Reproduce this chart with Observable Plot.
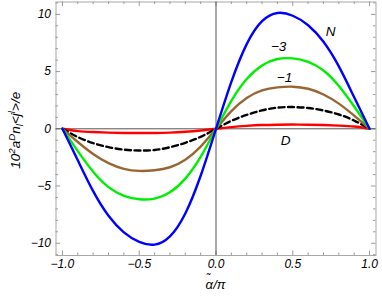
<!DOCTYPE html>
<html>
<head>
<meta charset="utf-8">
<script src="https://cdn.jsdelivr.net/npm/d3@7"></script>
<script src="https://cdn.jsdelivr.net/npm/@observablehq/plot@0.6"></script>
<style>
  html, body { margin: 0; padding: 0; background: #fff; }
  svg { font-family: "Liberation Sans", Arial, sans-serif; }
</style>
</head>
<body>
<div id="chart"></div>
<script>
const alpha = [-1,-0.9,-0.8,-0.7,-0.6,-0.5,-0.4,-0.3,-0.2,-0.1,0,0.1,0.2,0.3,0.4,0.5,0.6,0.7,0.8,0.9,1];
const seriesN  = [0,-2.75,-5.45,-7.6,-9.05,-9.88,-10.12,-9.4,-7.4,-4.1,0,4.1,7.4,9.4,10.12,9.88,9.05,7.6,5.45,2.75,0];
const seriesM3 = [0,-1.95,-3.75,-5.1,-5.85,-6.15,-6.1,-5.54,-4.35,-2.45,0,2.45,4.35,5.54,6.1,6.15,5.85,5.1,3.75,1.95,0];
const seriesM1 = [0,-1.15,-2.2,-3.0,-3.5,-3.68,-3.62,-3.36,-2.7,-1.55,0,1.55,2.7,3.36,3.62,3.68,3.5,3.0,2.2,1.15,0];
const seriesDash = [0,-0.72,-1.25,-1.6,-1.82,-1.9,-1.85,-1.61,-1.22,-0.7,0,0.7,1.22,1.61,1.85,1.9,1.82,1.6,1.25,0.72,0];
const seriesD  = [0,-0.2,-0.28,-0.33,-0.36,-0.37,-0.36,-0.33,-0.26,-0.15,0,0.15,0.26,0.33,0.36,0.37,0.36,0.33,0.28,0.2,0];

const curveLabels = ["N", "\u22123", "\u22121", "D"];
const curveLabelX = [0.746, 0.408, 0.446, 0.453];
const curveLabelY = [8.53, 7.2, 4.46, -1.0];

const xMajor = [-1, -0.5, 0, 0.5, 1];
const xMinor = [-0.9,-0.8,-0.7,-0.6,-0.4,-0.3,-0.2,-0.1,0.1,0.2,0.3,0.4,0.6,0.7,0.8,0.9];
const yMajor = [-10, -5, 0, 5, 10];
const yMinor = [-11,-9,-8,-7,-6,-4,-3,-2,-1,1,2,3,4,6,7,8,9,11];

const W = 382, H = 300;
const mL = 55.5, mR = 6.5, mT = 1.5, mB = 45;
const fw = W - mL - mR, fh = H - mT - mB;

const pts = (ys) => alpha.map((a, i) => ({x: a, y: ys[i]}));
const fmtX = d => (d < 0 ? "\u2212" : "") + Math.abs(d).toFixed(1);
const fmtY = d => (d < 0 ? "\u2212" : "") + Math.abs(d);

const tickStroke = "#9a9a9a";
const majorLen = 4.5, minorLen = 2.5;
const crv = "natural";

const lw = 2.4;
const plot = Plot.plot({
  width: W, height: H,
  marginLeft: mL, marginRight: mR, marginTop: mT, marginBottom: mB,
  x: {domain: [-1.042, 1.042], axis: null},
  y: {domain: [-11.07, 11.08], axis: null},
  marks: [
    Plot.frame({stroke: "#a8a8a8", strokeWidth: 1}),
    Plot.ruleX(xMajor, {x: d => d, insetTop: fh - majorLen, stroke: tickStroke}),
    Plot.ruleX(xMinor, {x: d => d, insetTop: fh - minorLen, stroke: tickStroke}),
    Plot.ruleX(xMajor, {x: d => d, insetBottom: fh - majorLen, stroke: tickStroke}),
    Plot.ruleX(xMinor, {x: d => d, insetBottom: fh - minorLen, stroke: tickStroke}),
    Plot.ruleY(yMajor, {y: d => d, insetRight: fw - majorLen, stroke: tickStroke}),
    Plot.ruleY(yMinor, {y: d => d, insetRight: fw - minorLen, stroke: tickStroke}),
    Plot.ruleY(yMajor, {y: d => d, insetLeft: fw - majorLen, stroke: tickStroke}),
    Plot.ruleY(yMinor, {y: d => d, insetLeft: fw - minorLen, stroke: tickStroke}),
    Plot.ruleY([0], {stroke: "#555", strokeWidth: 1}),
    Plot.ruleX([0], {stroke: "#555", strokeWidth: 1}),
    Plot.line(pts(seriesD), {x: "x", y: "y", stroke: "#ff0000", strokeWidth: lw, curve: crv}),
    Plot.line(pts(seriesDash), {x: "x", y: "y", stroke: "#000000", strokeWidth: lw, strokeDasharray: "6,3.5", curve: crv}),
    Plot.line(pts(seriesM1), {x: "x", y: "y", stroke: "#996633", strokeWidth: lw, curve: crv}),
    Plot.line(pts(seriesM3), {x: "x", y: "y", stroke: "#00ee00", strokeWidth: lw, curve: crv}),
    Plot.line(pts(seriesN), {x: "x", y: "y", stroke: "#0000ff", strokeWidth: lw, curve: crv}),
    Plot.text(curveLabels, {x: (d, i) => curveLabelX[i], y: (d, i) => curveLabelY[i], text: d => d,
      fontSize: 13.5, fontStyle: "italic", fill: "#000"}),
    Plot.text(xMajor, {x: d => d, text: fmtX, frameAnchor: "bottom", dy: 12, fontSize: 12, fontStyle: "italic", fill: "#000"}),
    Plot.text(yMajor, {y: d => d, text: fmtY, frameAnchor: "left", textAnchor: "end", dx: -5, fontSize: 12, fontStyle: "italic", fill: "#000"})
  ]
});

const svg = d3.select(plot);
// x label: alpha with tilde over it, then /pi, as one text element
const xl = svg.append("text")
  .attr("x", mL + fw / 2).attr("y", 289)
  .attr("text-anchor", "middle")
  .attr("font-size", 13)
  .attr("font-style", "italic")
  .attr("fill", "#000");
xl.append("tspan").text("\u03B1");
xl.append("tspan").attr("dx", -6.5).attr("dy", -8.5).attr("font-size", 11).text("\u02DC");
xl.append("tspan").attr("dx", 3.2).attr("dy", 8.5).text("/\u03C0");

// y label with super/subscripts
const yl = svg.append("text")
  .attr("transform", `translate(20,${mT + fh / 2 + 2}) rotate(-90)`)
  .attr("text-anchor", "middle")
  .attr("font-size", 13.5)
  .attr("font-style", "italic")
  .attr("fill", "#000");
const parts = [
  ["10", 0, 1], ["2", -5, 0.72], ["a", 0, 1], ["D", -5, 0.72], ["n", 0, 1], ["l", 2.5, 0.72],
  ["<j", 0, 1], ["l", -5, 0.72], [">/e", 0, 1]
];
let cur = 0;
for (const [t, off, sc] of parts) {
  const dy = off - cur;
  cur = off;
  yl.append("tspan").attr("dy", dy).attr("font-size", 13.5 * sc).text(t);
}

document.getElementById("chart").appendChild(plot);
</script>
</body>
</html>
